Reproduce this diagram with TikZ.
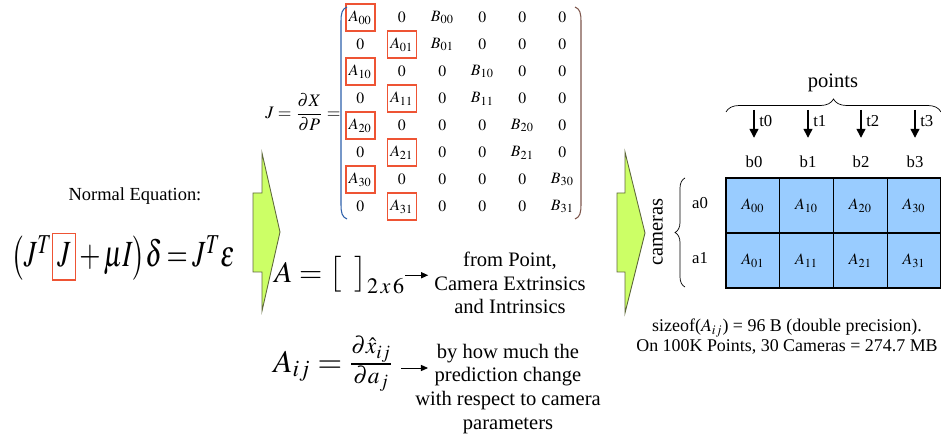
\documentclass[tikz,border=0pt]{standalone}
\usepackage{amsmath}
\usepackage{mathptmx}
\usepackage{fontspec}
\setmainfont{Liberation Serif}
\usetikzlibrary{matrix, positioning, arrows.meta, decorations.pathreplacing}

\definecolor{arrowgreen}{RGB}{204,255,102}
\definecolor{arrowedge}{RGB}{95,105,60}
\definecolor{boxred}{RGB}{238,84,52}
\definecolor{cellblue}{RGB}{153,204,255}
\definecolor{parblue}{RGB}{45,95,170}
\definecolor{parbrown}{RGB}{125,85,75}

\newcommand{\fntText}{\fontsize{11.7}{13.4}\selectfont}
\newcommand{\fntSmall}{\fontsize{9.5}{11.3}\selectfont}
\newcommand{\fntNote}{\fontsize{10.2}{11.4}\selectfont}
\newcommand{\fntMat}{\fontsize{9}{10}\selectfont}
\newcommand{\tightmath}{\medmuskip=2mu\thickmuskip=3mu}
\newcommand{\eqsqueeze}[1]{\scalebox{0.74}[1]{#1}}

\tikzset{
  redbox/.style={draw=boxred, thick},
  greenarrow/.style={fill=arrowgreen, draw=arrowedge, line width=0.5pt},
  cell/.style={draw=black, thick, fill=cellblue, minimum width=1.075cm,
    minimum height=1.1cm, inner sep=0pt, font=\fntMat},
  tarrow/.style={-{Triangle[length=5pt,width=5pt]}, line width=0.8pt},
  smallarrow/.style={-{Triangle[length=4pt,width=3.5pt]}, line width=0.5pt},
  bigeq/.style={font=\fontsize{21}{24}\selectfont, inner sep=0pt}
}

\begin{document}
\begin{tikzpicture}[x=0.02cm, y=-0.02cm]
\useasboundingbox (0,0) rectangle (941,439);

% Normal equation
\node[font=\fontsize{10.5}{12}\selectfont] (neqlabel) at (135,196) {Normal Equation:};
\node[bigeq, anchor=base west] (neqa) at (11,267) {\eqsqueeze{$\tightmath\big(J^T$}};
\node[bigeq, redbox, anchor=base west, inner xsep=2.6pt, inner ysep=5.4pt, text depth=2pt] (neqj) at (neqa.base east) {\eqsqueeze{$J$}};
\node[bigeq, anchor=base west] (neqb) at (neqj.base east) {\eqsqueeze{$\tightmath{}+\mu I\big)\delta = J^T \varepsilon$}};

% Green arrows
\filldraw[greenarrow] (253,193) -- (262,193) -- (262,153) -- (280,232) -- (262,311) -- (262,272) -- (253,272) -- cycle;
\filldraw[greenarrow] (617,193) -- (625,193) -- (625,152) -- (645,233) -- (625,313) -- (625,272) -- (617,272) -- cycle;

% Jacobian
\node[font=\fontsize{10}{11}\selectfont] (jdef) at (303,112) {$J = \dfrac{\partial X}{\partial P} =$};
\matrix (jac) [matrix of math nodes, row sep=-0.8pt, column sep=0.22cm,
  nodes={anchor=center, minimum width=0.58cm, minimum height=0.54cm, inner sep=0pt, font=\fntMat}] at (461,112) {
  |[redbox]| A_{00} & 0 & B_{00} & 0 & 0 & 0 \\
  0 & |[redbox]| A_{01} & B_{01} & 0 & 0 & 0 \\
  |[redbox]| A_{10} & 0 & 0 & B_{10} & 0 & 0 \\
  0 & |[redbox]| A_{11} & 0 & B_{11} & 0 & 0 \\
  |[redbox]| A_{20} & 0 & 0 & 0 & B_{20} & 0 \\
  0 & |[redbox]| A_{21} & 0 & 0 & B_{21} & 0 \\
  |[redbox]| A_{30} & 0 & 0 & 0 & 0 & B_{30} \\
  0 & |[redbox]| A_{31} & 0 & 0 & 0 & B_{31} \\
};
% thin brackets round the matrix
\draw[parblue, line width=0.6pt] (347,7) .. controls (342,9) and (341,13) .. (341,22) -- (341,204) .. controls (341,213) and (342,217) .. (347,219);
\draw[parbrown, line width=0.6pt] (575,7) .. controls (580,9) and (581,13) .. (581,22) -- (581,204) .. controls (581,213) and (580,217) .. (575,219);

% A block
\node[font=\fontsize{17}{20}\selectfont, inner sep=0pt, anchor=base west] (adef) at (274,282) {$A = \big[\;\;\big]_{2\,x\,6}$};
\node[font=\fntText, align=center] (afrom) at (510,283) {from Point,\\Camera Extrinsics\\and Intrinsics};
\draw[smallarrow] (adef.east) -- (adef.east -| afrom.west);

% A_ij
\node[font=\fontsize{18}{20}\selectfont, inner sep=0pt, anchor=base west] (aij) at (273,372) {$A_{ij} = \tfrac{\partial \hat{x}_{ij}}{\partial a_j}$};
\coordinate (aijend) at (428,368);
\draw[smallarrow] (aij.east |- aijend) ++(8,0) -- (aijend);
\node[font=\fontsize{11.7}{13.6}\selectfont, align=center] (aby) at (508,389) {by how much the\\prediction change\\with respect to camera\\parameters};

% Points header
\node[font=\fntText] (points) at (833,83) {points};
\draw[decorate, decoration={brace, amplitude=0.26cm}] (726,112) -- (941,112);
\coordinate (tt0) at (754,110);
\coordinate (tt1) at (808,110);
\coordinate (tt2) at (861,110);
\coordinate (tt3) at (915,110);
\node[font=\fntSmall, inner sep=0pt] (b0) at (754,162) {b0};
\node[font=\fntSmall, inner sep=0pt] (b1) at (808,162) {b1};
\node[font=\fntSmall, inner sep=0pt] (b2) at (861,162) {b2};
\node[font=\fntSmall, inner sep=0pt] (b3) at (915,162) {b3};
\draw[tarrow, shorten >=0.36cm] (tt0) -- (b0.north);
\draw[tarrow, shorten >=0.36cm] (tt1) -- (b1.north);
\draw[tarrow, shorten >=0.36cm] (tt2) -- (b2.north);
\draw[tarrow, shorten >=0.36cm] (tt3) -- (b3.north);
\node[font=\fntSmall, anchor=west, inner sep=0pt] (t0) at (759,121) {t0};
\node[font=\fntSmall, anchor=west, inner sep=0pt] (t1) at (813,121) {t1};
\node[font=\fntSmall, anchor=west, inner sep=0pt] (t2) at (866,121) {t2};
\node[font=\fntSmall, anchor=west, inner sep=0pt] (t3) at (920,121) {t3};

% Cameras side
\node[font=\fntText, rotate=90] (cameras) at (658,232) {cameras};
\draw[decorate, decoration={brace, amplitude=0.2cm}] (685,287) -- (685,178);
\node[font=\fntSmall] (a0) at (700,203) {a0};
\node[font=\fntSmall] (a1) at (700,258) {a1};

% Grid of A blocks
\node[cell] (c00) at (753,205.5) {$A_{00}$};
\node[cell] (c10) at (806.6,205.5) {$A_{10}$};
\node[cell] (c20) at (860.4,205.5) {$A_{20}$};
\node[cell] (c30) at (914.1,205.5) {$A_{30}$};
\node[cell] (c01) at (753,260.5) {$A_{01}$};
\node[cell] (c11) at (806.6,260.5) {$A_{11}$};
\node[cell] (c21) at (860.4,260.5) {$A_{21}$};
\node[cell] (c31) at (914.1,260.5) {$A_{31}$};

% Size note
\node[font=\fntNote, align=center] (sizenote) at (787,337) {sizeof($A_{ij}$) = 96 B (double precision).\\On 100K Points, 30 Cameras = 274.7 MB};

\end{tikzpicture}
\end{document}
